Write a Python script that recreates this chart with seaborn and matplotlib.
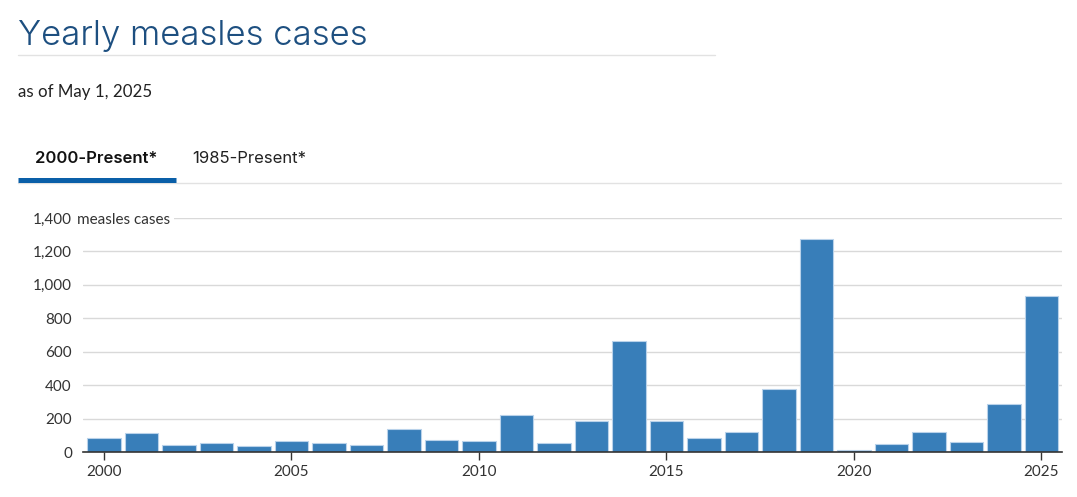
import matplotlib
matplotlib.use("Agg")
import matplotlib.pyplot as plt
import matplotlib.transforms as mtransforms
import seaborn as sns
import pandas as pd

# Yearly measles cases
years = list(range(2000, 2026))
cases = [86, 116, 44, 56, 37, 66, 55, 43, 140, 71, 63, 220, 55, 187, 667,
         188, 86, 120, 375, 1274, 13, 49, 121, 59, 285, 935]
y_ticks = [0, 200, 400, 600, 800, 1000, 1200, 1400]
x_ticks = [2000, 2005, 2010, 2015, 2020, 2025]
tabs = ["2000-Present*", "1985-Present*"]

df = pd.DataFrame({"year": years, "cases": cases})

sns.set_style("white")
plt.rcParams["font.family"] = ["Lato", "DejaVu Sans"]

W, H = 1077, 497
fig = plt.figure(figsize=(W / 100, H / 100), dpi=100)

def fx(px):
    return px / W

def fy(py):
    return 1 - py / H

# plot area
ax = fig.add_axes([fx(83), fy(452), fx(1062) - fx(83), fy(218) - fy(452)])
sns.barplot(data=df, x="year", y="cases", native_scale=True, width=0.9,
            color="#387eb9", saturation=1, edgecolor="#b9d2ea", linewidth=0.8,
            ax=ax, zorder=3)

ax.set_xlim(1999.44, 2025.55)
ax.set_ylim(0, 1400)
ax.set_xticks(x_ticks)
ax.set_xticklabels([str(x) for x in x_ticks])
ax.set_yticks(y_ticks)
ax.set_yticklabels([f"{v:,}" for v in y_ticks])
ax.set_xlabel("")
ax.set_ylabel("")
ax.yaxis.grid(True, color="#d9d9d9", linewidth=1)
ax.set_axisbelow(True)
for s in ["top", "right", "left"]:
    ax.spines[s].set_visible(False)
ax.spines["bottom"].set_color("#333333")
ax.spines["bottom"].set_linewidth(1.2)
ax.spines["bottom"].set_zorder(4)
ax.tick_params(axis="x", length=6, width=1, color="#333333", labelsize=11,
               labelcolor="#333333", pad=3, bottom=True)
ax.tick_params(axis="y", length=0, labelsize=11, labelcolor="#333333", pad=8)

# unit label next to the top tick
trans = mtransforms.blended_transform_factory(ax.transAxes, ax.transData)
ax.annotate("measles cases", xy=(0, 1400), xycoords=trans, xytext=(-4, 0),
            textcoords="offset points", ha="left", va="center_baseline",
            fontsize=11, color="#333333",
            bbox=dict(boxstyle="square,pad=0.25", fc="white", ec="none"),
            zorder=5, annotation_clip=False)

# header texts
fig.text(fx(18), fy(45), "Yearly measles cases", fontsize=25,
         fontweight=300, family=["Inter", "DejaVu Sans"], color="#1d4f80",
         va="baseline")
fig.add_artist(plt.Line2D([fx(18), fx(715)], [fy(55), fy(55)],
                          color="#e2e2e2", linewidth=1))
fig.text(fx(18), fy(97), "as of May 1, 2025", fontsize=12.2,
         color="#222222", va="baseline")

fig.text(fx(35), fy(163), tabs[0], fontsize=12, fontweight=600,
         family=["Inter", "DejaVu Sans"], color="#111111", va="baseline")
fig.text(fx(192), fy(163), tabs[1], fontsize=12,
         family=["Inter", "DejaVu Sans"], color="#222222", va="baseline")
fig.add_artist(plt.Line2D([fx(18), fx(1061)], [fy(183), fy(183)],
                          color="#e2e2e2", linewidth=1))
fig.add_artist(plt.Line2D([fx(18), fx(176)], [fy(180), fy(180)],
                          color="#0a5fa8", linewidth=3.6,
                          solid_capstyle="butt"))

fig.savefig("out.png", dpi=100)
